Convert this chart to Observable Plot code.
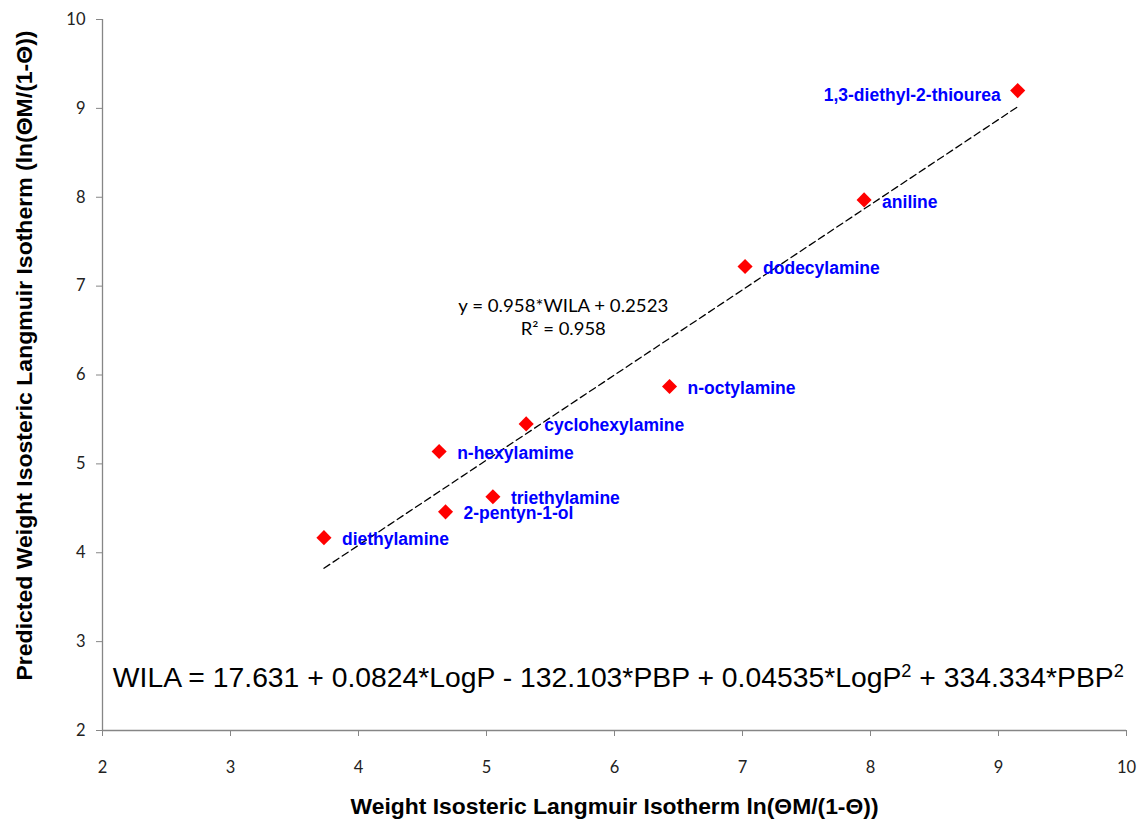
<!DOCTYPE html>
<html>
<head>
<meta charset="utf-8">
<script src="https://cdn.jsdelivr.net/npm/d3@7"></script>
<script src="https://cdn.jsdelivr.net/npm/@observablehq/plot@0.6"></script>
<style>
  html, body { margin: 0; padding: 0; background: #fff; }
  #chart { width: 1137px; height: 819px; }
</style>
</head>
<body>
<div id="chart"></div>
<script>
// ---- data ----
const compounds = ["diethylamine", "2-pentyn-1-ol", "triethylamine", "n-hexylamime", "cyclohexylamine",
  "n-octylamine", "dodecylamine", "aniline", "1,3-diethyl-2-thiourea"];
const wila = [3.73, 4.68, 5.05, 4.63, 5.31, 6.43, 7.02, 7.95, 9.15];
const predicted = [4.17, 4.46, 4.63, 5.14, 5.45, 5.87, 7.22, 7.97, 9.20];
const xTicks = [2, 3, 4, 5, 6, 7, 8, 9, 10];
const yTicks = [2, 3, 4, 5, 6, 7, 8, 9, 10];
const fitSlope = 0.958;
const fitIntercept = 0.2523;
const fitText = ["y = 0.958*WILA + 0.2523", "R² = 0.958"];
const fitTextPos = [[5.60, 6.77], [5.60, 6.51]];
const wilaEquation = "WILA = 17.631 + 0.0824*LogP - 132.103*PBP + 0.04535*LogP² + 334.334*PBP²";
const wilaEquationPos = [6.03, 2.585];
const xTitle = "Weight Isosteric Langmuir Isotherm ln(ΘM/(1-Θ))";
const yTitle = "Predicted Weight Isosteric Langmuir Isotherm (ln(ΘM/(1-Θ))";

// ---- derived tables ----
const points = compounds.map((c, i) => ({name: c, x: wila[i], y: predicted[i]}));
const rightLabels = points.filter(d => d.name !== "1,3-diethyl-2-thiourea");
const leftLabels = points.filter(d => d.name === "1,3-diethyl-2-thiourea");
const xMin = d3.min(wila), xMax = d3.max(wila);
const fitLine = [xMin, xMax].map(x => ({x, y: fitSlope * x + fitIntercept}));
const fitAnn = fitText.map((t, i) => ({t, x: fitTextPos[i][0], y: fitTextPos[i][1]}));

const axisColor = "#868686";
const tickFont = "Lato, 'Open Sans', sans-serif";
const titleFont = "'Liberation Sans Narrow', 'Arial Narrow', 'Liberation Sans', Arial, sans-serif";
const labelFont = "'Liberation Sans', Arial, sans-serif";

const chart = Plot.plot({
  width: 1137,
  height: 819,
  marginLeft: 102,
  marginRight: 11,
  marginTop: 19,
  marginBottom: 89,
  style: {background: "white", overflow: "visible"},
  x: {domain: [2, 10]},
  y: {domain: [2, 10]},
  marks: [
    Plot.axisX({ticks: xTicks, tickSize: 6, tickPadding: 25, stroke: axisColor, color: "#222",
      fontSize: 16.5, fontFamily: tickFont, label: null, tickFormat: d => String(d)}),
    Plot.axisY({ticks: yTicks, tickSize: 6, tickPadding: 11, stroke: axisColor, color: "#222",
      fontSize: 16.5, fontFamily: tickFont, label: null, tickFormat: d => String(d)}),
    Plot.ruleX([2], {stroke: axisColor, strokeWidth: 1.3}),
    Plot.ruleY([2], {stroke: axisColor, strokeWidth: 1.3}),
    Plot.line(fitLine, {x: "x", y: "y", stroke: "black", strokeWidth: 1.3, strokeDasharray: "7,4"}),
    Plot.dot(points, {x: "x", y: "y", symbol: "diamond2", r: 6.8, fill: "#ff0000", stroke: "none"}),
    Plot.text(rightLabels, {x: "x", y: "y", text: "name", textAnchor: "start", dx: 18, dy: 2,
      fill: "#0000ff", fontWeight: "bold", fontSize: 17.5, fontFamily: labelFont}),
    Plot.text(leftLabels, {x: "x", y: "y", text: "name", textAnchor: "end", dx: -17, dy: 5,
      fill: "#0000ff", fontWeight: "bold", fontSize: 17.5, fontFamily: labelFont}),
    Plot.text(fitAnn, {x: "x", y: "y", text: "t", fill: "black", fontSize: 17, fontFamily: tickFont}),
    Plot.text([wilaEquation], {x: () => wilaEquationPos[0], y: () => wilaEquationPos[1], text: d => d,
      fill: "black", fontSize: 28, fontFamily: titleFont}),
    Plot.text([xTitle], {frameAnchor: "bottom", textAnchor: "middle", text: d => d, dx: 0, dy: 83, fill: "black",
      fontWeight: "bold", fontSize: 22, fontFamily: titleFont}),
    Plot.text([yTitle], {frameAnchor: "left", textAnchor: "middle", text: d => d, rotate: -90, dx: -78, dy: -19.5,
      fill: "black", fontWeight: "bold", fontSize: 22, fontFamily: titleFont})
  ]
});

document.getElementById("chart").appendChild(chart);

// ---- post-processing: fit text widths, superscripts ----
const ns = "http://www.w3.org/2000/svg";
chart.querySelectorAll("text").forEach(t => {
  const s = t.textContent;
  const fit = (len) => { t.setAttribute("textLength", len); t.setAttribute("lengthAdjust", "spacingAndGlyphs"); };
  if (s === xTitle) fit(528);
  else if (s === yTitle) fit(650);
  else if (s === fitText[0]) fit(210);
  else if (s === fitText[1]) fit(85);
  else if (s === wilaEquation) {
    const parts = s.split("²");
    while (t.firstChild) t.removeChild(t.firstChild);
    parts.forEach((p, i) => {
      if (p.length) {
        const a = document.createElementNS(ns, "tspan");
        a.textContent = p;
        if (i > 0) a.setAttribute("dy", "10");
        t.appendChild(a);
      }
      if (i < parts.length - 1) {
        const sup = document.createElementNS(ns, "tspan");
        sup.textContent = "2";
        sup.setAttribute("font-size", "18");
        sup.setAttribute("dy", "-10");
        t.appendChild(sup);
      }
    });
    fit(1011);
  }
});
</script>
</body>
</html>
